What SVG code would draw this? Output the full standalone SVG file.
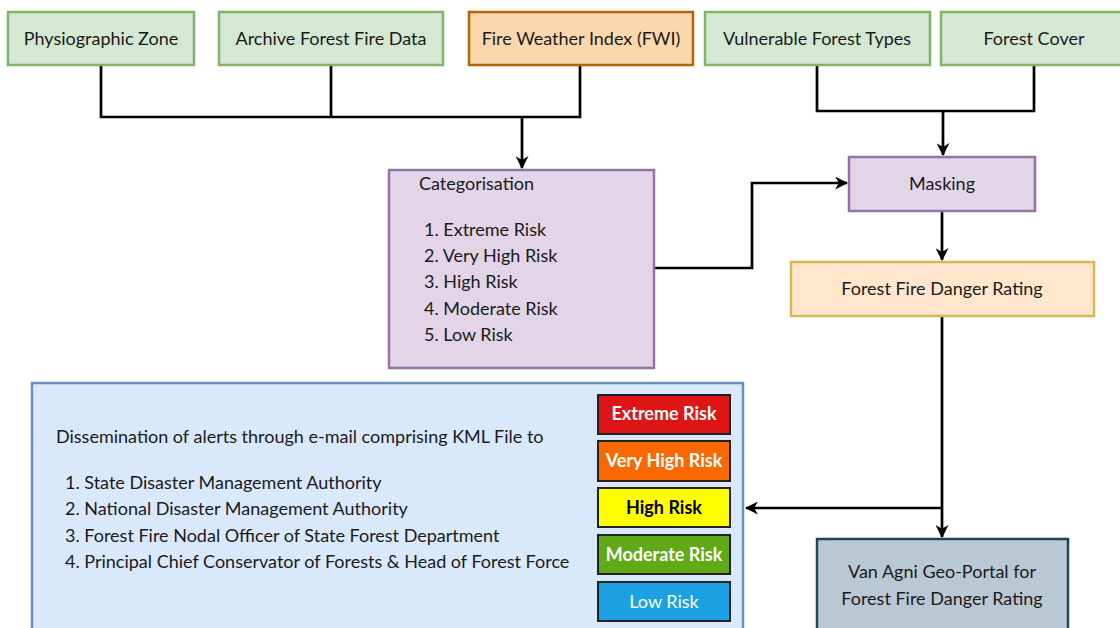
<svg xmlns="http://www.w3.org/2000/svg" width="1120" height="628" viewBox="0 0 1120 628">
<style>
text{font-family:Lato,"Open Sans","Liberation Sans",sans-serif;font-size:18px;fill:#1a1a1a}
.c{text-anchor:middle}
.green{fill:#d5e8d4;stroke:#82b366;stroke-width:2.5}
.orange{fill:#fad7ac;stroke:#b46504;stroke-width:2.5}
.purple{fill:#e1d5e7;stroke:#9673a6;stroke-width:2.5}
.peach{fill:#ffe6cc;stroke:#d6b656;stroke-width:2.5}
.blue{fill:#dae8fc;stroke:#6c8ebf;stroke-width:2.5}
.slate{fill:#bac8d3;stroke:#23445d;stroke-width:2.5}
.risk{stroke:#222;stroke-width:2}
.rl{font-weight:bold;fill:#fff}
.conn{fill:none;stroke:#000;stroke-width:2.7}
</style>
<defs>
<marker id="arr" viewBox="0 0 12 12" refX="11" refY="6" markerWidth="13" markerHeight="13" markerUnits="userSpaceOnUse" orient="auto">
<path d="M0,0 L12,6 L0,12 L3.5,6 z" fill="#000"/>
</marker>
</defs>
<rect width="1120" height="628" fill="#fff"/>
<g id="connectors">
<path class="conn" d="M101,65 V117 H580 V65"/>
<path class="conn" d="M331,65 V117"/>
<path class="conn" d="M522,117 V168" marker-end="url(#arr)"/>
<path class="conn" d="M817,65 V111 H1034 V65"/>
<path class="conn" d="M943,111 V155" marker-end="url(#arr)"/>
<path class="conn" d="M654,268 H752 V183 H847" marker-end="url(#arr)"/>
<path class="conn" d="M942,211 V260" marker-end="url(#arr)"/>
<path class="conn" d="M942,316 V537" marker-end="url(#arr)"/>
<path class="conn" d="M942,508 H746" marker-end="url(#arr)"/>
</g>
<g id="physiographic"><rect class="green" x="8" y="12" width="186" height="53"/><text class="c" x="101" y="45">Physiographic Zone</text></g>
<g id="archive"><rect class="green" x="219" y="12" width="224" height="53"/><text class="c" x="331" y="45">Archive Forest Fire Data</text></g>
<g id="fwi"><rect class="orange" x="469" y="12" width="224" height="53"/><text class="c" x="581" y="45">Fire Weather Index (FWI)</text></g>
<g id="vulnerable"><rect class="green" x="705" y="12" width="225" height="53"/><text class="c" x="817" y="45">Vulnerable Forest Types</text></g>
<g id="forestcover"><rect class="green" x="941" y="12" width="186" height="53"/><text class="c" x="1034" y="45">Forest Cover</text></g>
<g id="categorisation"><rect class="purple" x="389" y="170" width="265" height="198"/>
<text x="419" y="190">Categorisation</text>
<text x="424" y="236">1. Extreme Risk</text>
<text x="424" y="262">2. Very High Risk</text>
<text x="424" y="288">3. High Risk</text>
<text x="424" y="315">4. Moderate Risk</text>
<text x="424" y="341">5. Low Risk</text>
</g>
<g id="masking"><rect class="purple" x="849" y="157" width="186" height="54"/><text class="c" x="942" y="190">Masking</text></g>
<g id="ffdr"><rect class="peach" x="791" y="262" width="303" height="54"/><text class="c" x="942" y="295">Forest Fire Danger Rating</text></g>
<g id="dissemination"><rect class="blue" x="32" y="383" width="711" height="260"/>
<text x="56" y="443">Dissemination of alerts through e-mail comprising KML File to</text>
<text x="65" y="489">1. State Disaster Management Authority</text>
<text x="65" y="515">2. National Disaster Management Authority</text>
<text x="65" y="542">3. Forest Fire Nodal Officer of State Forest Department</text>
<text x="65" y="568">4. Principal Chief Conservator of Forests &amp; Head of Forest Force</text>
</g>
<g id="risk-legend">
<rect class="risk" x="598" y="395" width="132" height="39" fill="#dd1515"/><text class="c rl" x="664" y="420">Extreme Risk</text>
<rect class="risk" x="598" y="441" width="132" height="40" fill="#fa6800"/><text class="c rl" x="664" y="467">Very High Risk</text>
<rect class="risk" x="598" y="488" width="132" height="39" fill="#ffff00"/><text class="c rl" x="664" y="514" style="fill:#000">High Risk</text>
<rect class="risk" x="598" y="535" width="132" height="39" fill="#60a917"/><text class="c rl" x="664" y="561">Moderate Risk</text>
<rect class="risk" x="598" y="582" width="132" height="39" fill="#1ba1e2"/><text class="c" x="664" y="608" style="fill:#fff">Low Risk</text>
</g>
<g id="vanagni"><rect class="slate" x="817" y="539" width="251" height="100"/>
<text class="c" x="942" y="578">Van Agni Geo-Portal for</text>
<text class="c" x="942" y="605">Forest Fire Danger Rating</text>
</g>
</svg>
